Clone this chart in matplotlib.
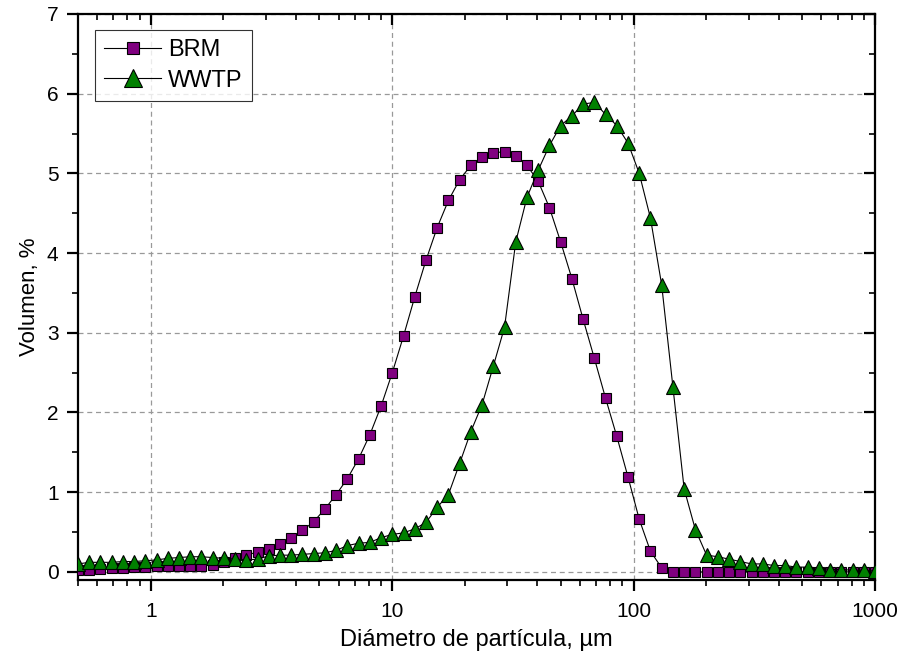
import numpy as np
import matplotlib.pyplot as plt
from matplotlib.ticker import FixedLocator, NullFormatter, MultipleLocator

plt.rcParams['font.family'] = ['Liberation Sans', 'DejaVu Sans']

# particle size bins (um)
diam = [0.500, 0.557, 0.619, 0.689, 0.767, 0.854, 0.950, 1.058, 1.177, 1.310,
        1.458, 1.623, 1.806, 2.010, 2.238, 2.491, 2.772, 3.085, 3.434, 3.822,
        4.254, 4.735, 5.270, 5.865, 6.528, 7.266, 8.087, 9.001, 10.02, 11.15,
        12.41, 13.81, 15.37, 17.11, 19.04, 21.19, 23.59, 26.25, 29.22, 32.52,
        36.20, 40.29, 44.84, 49.91, 55.55, 61.83, 68.82, 76.59, 85.25, 94.88,
        105.6, 117.5, 130.8, 145.6, 162.1, 180.4, 200.8, 223.5, 248.7, 276.8,
        308.1, 342.9, 381.7, 424.8, 472.8, 526.3, 585.7, 651.9, 725.6, 807.6,
        898.8, 1000.0]

brm = [0.02, 0.03, 0.04, 0.05, 0.05, 0.06, 0.06, 0.07, 0.08, 0.08,
       0.08, 0.08, 0.09, 0.12, 0.18, 0.21, 0.25, 0.29, 0.35, 0.42,
       0.52, 0.63, 0.79, 0.97, 1.17, 1.42, 1.72, 2.08, 2.50, 2.96,
       3.45, 3.91, 4.32, 4.66, 4.92, 5.10, 5.21, 5.26, 5.27, 5.22,
       5.10, 4.90, 4.57, 4.14, 3.68, 3.17, 2.68, 2.18, 1.70, 1.19,
       0.66, 0.26, 0.05, 0.0, 0.0, 0.0, 0.0, 0.0, 0.0, 0.0,
       0.0, 0.0, 0.0, 0.0, 0.0, 0.0, 0.0, 0.0, 0.0, 0.0,
       0.0, 0.0]

wwtp = [0.10, 0.12, 0.12, 0.12, 0.13, 0.13, 0.14, 0.15, 0.17, 0.18,
        0.19, 0.19, 0.18, 0.17, 0.16, 0.15, 0.16, 0.20, 0.21, 0.21,
        0.22, 0.23, 0.24, 0.27, 0.33, 0.36, 0.37, 0.43, 0.47, 0.49,
        0.54, 0.62, 0.81, 0.97, 1.36, 1.76, 2.10, 2.58, 3.07, 4.14,
        4.70, 5.04, 5.35, 5.60, 5.72, 5.87, 5.89, 5.74, 5.60, 5.38,
        5.00, 4.44, 3.60, 2.32, 1.04, 0.53, 0.21, 0.19, 0.16, 0.13,
        0.10, 0.10, 0.08, 0.08, 0.06, 0.06, 0.05, 0.03, 0.03, 0.02,
        0.02, 0.01]

xticks = [1, 10, 100, 1000]
xticklabels = ['1', '10', '100', '1000']

fig = plt.figure(figsize=(9.02, 6.53), dpi=100)
ax = fig.add_axes([0.0865, 0.112, 0.8835, 0.8666])

ax.plot(diam, brm, color='black', lw=0.8, marker='s', ms=7.5,
        mfc='#800080', mec='black', mew=0.8, label='BRM', zorder=3)
ax.plot(diam, wwtp, color='black', lw=0.8, marker='^', ms=10.5,
        mfc='#008000', mec='black', mew=0.8, label='WWTP', zorder=4)

ax.set_xscale('log')
ax.set_xlim(0.5, 1000)
ax.set_ylim(-0.1, 7)

ax.xaxis.set_major_locator(FixedLocator(xticks))
ax.set_xticklabels(xticklabels)
ax.xaxis.set_minor_locator(FixedLocator(
    [m * 10.0 ** e for e in range(-1, 3) for m in range(2, 10)]))
ax.xaxis.set_minor_formatter(NullFormatter())
ax.yaxis.set_major_locator(MultipleLocator(1))
ax.yaxis.set_minor_locator(MultipleLocator(0.5))

ax.grid(True, which='major', color='#999999', ls=(0, (4, 3)), lw=0.9)

for s in ax.spines.values():
    s.set_linewidth(1.6)

ax.tick_params(which='major', direction='out', length=8, width=1.6,
               labelsize=15, pad=6)
ax.tick_params(which='minor', direction='out', length=4.5, width=1.2)
ax.tick_params(axis='x', which='major', pad=8)
ax.tick_params(which='both', top=True, right=True)
# mirrored ticks on top/right point inward
for t in ax.xaxis.get_major_ticks() + ax.xaxis.get_minor_ticks():
    t.tick2line.set_marker(3)
for t in ax.yaxis.get_major_ticks() + ax.yaxis.get_minor_ticks():
    t.tick2line.set_marker(0)

ax.set_xlabel('Diámetro de partícula, µm', fontsize=17, labelpad=6)
ax.set_ylabel('Volumen, %', fontsize=16, labelpad=5)

leg = ax.legend(loc='upper left', bbox_to_anchor=(0.0213, 0.972),
                borderaxespad=0, fontsize=17,
                frameon=True, fancybox=False, numpoints=1, handlelength=2.4,
                handletextpad=0.3, borderpad=0.4, labelspacing=0.35,
                markerscale=1.2)
leg.get_frame().set_edgecolor('black')
leg.get_frame().set_linewidth(0.8)

fig.savefig('out.png', dpi=100)
